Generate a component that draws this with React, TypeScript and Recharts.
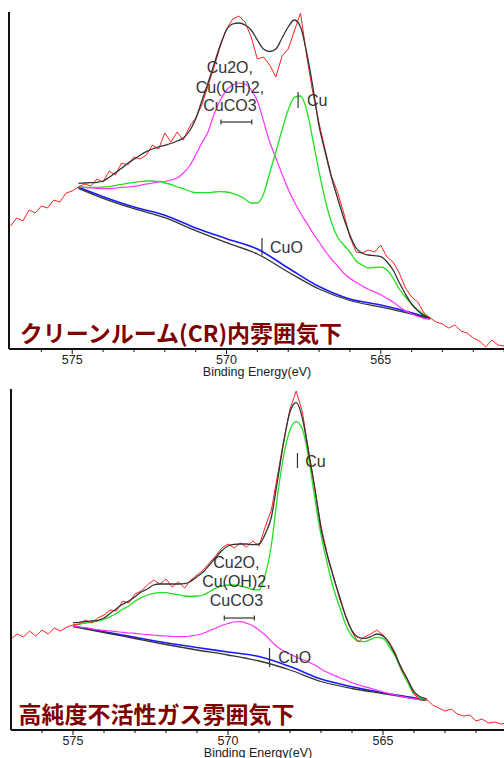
import React from "react";
import { LineChart, Line, XAxis, YAxis, ReferenceLine, ReferenceDot } from "recharts";

// binding energy grid of the raw scan (eV)
const rawEnergy = [
  577.0, 576.8, 576.6, 576.4, 576.2, 576.0, 575.8, 575.6, 575.4, 575.2,
  575.0, 574.8, 574.6, 574.4, 574.2, 574.0, 573.8, 573.6, 573.4, 573.2,
  573.0, 572.8, 572.6, 572.4, 572.2, 572.0, 571.8, 571.6, 571.4, 571.2,
  571.0, 570.8, 570.6, 570.4, 570.2, 570.0, 569.8, 569.6, 569.4, 569.2,
  569.0, 568.8, 568.6, 568.4, 568.2, 568.0, 567.8, 567.6, 567.4, 567.2,
  567.0, 566.8, 566.6, 566.4, 566.2, 566.0, 565.8, 565.6, 565.4, 565.2,
  565.0, 564.8, 564.6, 564.4, 564.2, 564.0, 563.8, 563.6, 563.4, 563.2,
  563.0, 562.8, 562.6, 562.4, 562.2, 562.0, 561.8, 561.6, 561.4, 561.2,
  561.0, 560.8,
];
const tickValues = [561, 562, 563, 564, 565, 566, 567, 568, 569, 570, 571, 572, 573, 574, 575, 576];

// ---- top: clean room
const topFitEnergy = rawEnergy.slice(11, 69); // 574.8 .. 563.4
const topRaw = [
  123, 131, 128, 139, 136, 143, 141, 149, 147, 156,
  158, 162, 165, 163, 170, 167, 178, 174, 186, 184,
  192, 190, 194, 204, 200, 216, 207, 217, 209, 222,
  231, 244, 263, 282, 303, 320, 330, 333, 327, 312,
  290, 292, 284, 272, 293, 300, 318, 336, 293, 256,
  226, 199, 173, 157, 136, 112, 97, 96, 99, 97,
  104, 92, 87, 76, 61, 52, 47, 36, 31, 27,
  25, 21, 24, 18, 16, 11, 8, 2, 9, 4,
  3, 2,
];
const topEnvelope = [
  165.7, 166, 166.3, 166.7, 168, 171.7, 176.3, 180.7, 185.7, 189.7,
  193.7, 197.3, 200, 202, 203.7, 205.5, 208, 211, 218, 230,
  248, 266, 285, 304, 319, 325, 326, 324, 319, 309,
  300, 297.5, 300, 311, 322, 329, 322, 296, 262, 223,
  197, 172, 151, 131, 114, 101, 95.7, 94, 93.3, 92.3,
  87.3, 79, 66.5, 55, 45, 38.3, 33.7, 31,
];
const topCu = [
  162.3, 161.7, 161.7, 161.7, 162, 162.3, 163.7, 164.7, 165.7, 166.7,
  167.3, 168, 168, 167.7, 166, 164.7, 162, 160.3, 158, 156.3,
  156.3, 156.3, 157, 157.3, 157, 155.7, 153.3, 150, 146, 146,
  155, 176, 197.3, 219, 239, 251.7, 253, 239, 209, 177.3,
  149, 127, 112, 104, 97, 88, 84, 81, 81.5, 82,
  79, 71, 60, 52, 45, 39, 34.5, 31,
];
const topOxide = [
  162.3, 161.7, 161, 160.7, 160.3, 160.3, 161, 161.7, 162, 162.7,
  163.7, 165, 166, 167, 167.5, 169, 171, 176, 183, 194,
  206, 217, 235, 249, 259, 264, 266, 265, 259, 248,
  228, 207, 191, 175, 159.7, 147, 135.7, 126, 116, 107,
  98, 90, 83, 76, 70.7, 66.7, 63, 59.7, 57, 54.3,
  50.7, 47, 42.3, 38.3, 35, 32.7, 30.7, 29.7,
];
const topBgEnergy = [574.8, 574, 573, 572, 571, 570, 569, 568, 567, 566, 565, 564, 563.4];
const topBgBlue = [161.7, 152.3, 142, 133.7, 121, 110.3, 100, 81, 62.5, 50, 44, 36.3, 31];
const topBgBlack = [160.7, 150.7, 140.3, 131.3, 118.3, 106.3, 95, 77, 60, 48.5, 42, 35, 30.3];

// ---- bottom: high-purity inert gas
const bottomFitEnergy = rawEnergy.slice(10, 68); // 575.0 .. 563.6
const bottomRaw = [
  91, 96, 93, 99, 94, 100, 96, 102, 99, 103,
  105, 106, 110, 107, 112, 115, 120, 119, 129, 127,
  136, 139, 145, 150, 146, 151, 143, 148, 142, 150,
  155, 160, 167, 174, 182, 186, 182, 187, 183, 189,
  184, 203, 220, 255, 290, 321, 339, 318, 279, 241,
  204, 176, 154, 131, 114, 98, 88, 93, 96, 100,
  95, 88, 77, 60, 50, 36, 30, 31, 25, 22,
  19, 21, 16, 14, 15, 9, 11, 7, 8, 6,
  7, 6,
];
const bottomEnvelope = [
  107.3, 107.7, 108.3, 109, 109.7, 112, 116.7, 121.3, 125.7, 129,
  133.3, 138, 141, 145, 146, 146, 146, 146, 146.3, 148.7,
  153.3, 158, 165, 172.3, 179.3, 184, 185.7, 186, 186, 185.3,
  186, 196, 213, 250, 288.3, 318.3, 327.3, 311.7, 278, 242,
  201.7, 175, 153.3, 133.3, 113.3, 99.3, 92.7, 91.7, 93.3, 96,
  94, 86.7, 75, 61.7, 50, 38.3, 33.3, 31.3,
];
const bottomCu = [
  105, 105.7, 107, 107.7, 109, 110.7, 113.3, 116.7, 120.7, 124,
  128.7, 132.3, 135, 136.7, 137.3, 137.3, 136.3, 135.3, 134, 133.5,
  134, 135, 138.3, 141.7, 144, 145, 145, 144, 142.5, 140.5,
  140, 155, 185, 235, 275, 300, 308.3, 300.7, 272, 232,
  195, 166.7, 141.7, 123.3, 105, 94, 89, 88.3, 90.7, 92.7,
  91.7, 83.3, 73.3, 59.3, 47.3, 36, 32, 30,
];
const bottomOxide = [
  104, 103, 102.3, 101.3, 100.3, 99.7, 99, 98.3, 97.7, 97,
  96.7, 96, 95.3, 95, 94.3, 94, 93.7, 93.3, 93.3, 94,
  95, 96.7, 99.3, 101.7, 104.5, 106.5, 108, 108.3, 106.8, 104.3,
  100, 95, 88.5, 83, 79, 76, 73, 70.5, 68, 65,
  61, 57.7, 55, 52.3, 50, 47.3, 45.3, 43.3, 41.7, 40,
  38, 36.3, 35, 33.3, 32.3, 31.3, 30.7, 30,
];
const bottomBgEnergy = [575, 574, 573, 572, 571, 570, 569, 568, 567, 566, 565, 564, 563.6];
const bottomBgBlue = [104, 98.3, 92.7, 87.3, 82.5, 78, 73.5, 63.5, 51, 43.3, 37.3, 32.3, 30];
const bottomBgBlack = [103.3, 97.5, 91.5, 85.5, 80, 75, 69, 60, 48.5, 41.5, 36.5, 31.5, 29.5];

const oxideLabel = ["Cu2O,", "Cu(OH)2,", "CuCO3"];

type Pt = { e: number; v: number };
type Note = { e: number; v: number; text: string; anchor?: "start" | "middle" };
type Seg = [number, number, number, number];

const zip = (es: number[], vs: number[]): Pt[] => es.map((e, i) => ({ e, v: vs[i] }));

const FONT = "'Liberation Sans', Arial, sans-serif";

function BottomTick({ x, y, payload }: any) {
  const major = payload.value % 5 === 0;
  return (
    <g>
      <line x1={x} x2={x} y1={y} y2={y + (major ? 5 : 3)} stroke="#111" />
      {major && (
        <text x={x} y={y + 15} textAnchor="middle" fontSize={12.5} fontFamily={FONT} fill="#222">
          {payload.value}
        </text>
      )}
    </g>
  );
}

function TopTick({ x, y, payload }: any) {
  const major = payload.value % 5 === 0;
  return <line x1={x} x2={x} y1={y} y2={y + (major ? 6 : 4)} stroke="#111" />;
}

type PanelProps = {
  offsetTop: number;
  plotLeft: number;
  plotTop: number;
  plotWidth: number;
  plotHeight: number;
  axisHeight: number;
  xDomain: [number, number];
  yMax: number;
  titleDx: number;
  raw: Pt[];
  envelope: Pt[];
  cu: Pt[];
  oxide: Pt[];
  bgBlue: Pt[];
  bgBlack: Pt[];
  notes: Note[];
  segments: Seg[];
  caption: Note;
};

function Panel(p: PanelProps) {
  const axisLine = { stroke: "#111", strokeWidth: 2 };
  return (
    <div style={{ position: "absolute", left: 0, top: p.offsetTop }}>
      <LineChart
        width={p.plotLeft + p.plotWidth}
        height={p.plotTop + p.plotHeight + p.axisHeight}
        margin={{ top: p.plotTop, left: p.plotLeft - 1, right: 0, bottom: 0 }}
      >
        <XAxis
          type="number"
          dataKey="e"
          domain={p.xDomain}
          reversed
          allowDataOverflow
          ticks={tickValues}
          interval={0}
          tickSize={0}
          tickMargin={0}
          tickLine={false}
          tick={(t: any) => <BottomTick {...t} />}
          axisLine={axisLine}
          height={p.axisHeight}
          label={(l: any) => {
            const vb = l.viewBox || { x: p.plotLeft, y: p.plotTop + p.plotHeight };
            return (
              <text x={vb.x + p.titleDx} y={vb.y + 27} textAnchor="middle" fontSize={12.5} fontFamily={FONT} fill="#222">
                Binding Energy(eV)
              </text>
            );
          }}
        />
        <XAxis
          xAxisId="t"
          orientation="top"
          type="number"
          domain={p.xDomain}
          reversed
          allowDataOverflow
          ticks={tickValues}
          interval={0}
          tickSize={0}
          tickMargin={0}
          tickLine={false}
          tick={(t: any) => <TopTick {...t} />}
          axisLine={axisLine}
          height={0}
        />
        <YAxis type="number" domain={[0, p.yMax]} allowDataOverflow tick={false} tickLine={false} width={1} axisLine={axisLine} />

        <Line data={p.bgBlue} dataKey="v" type="monotone" stroke="#1a1aff" strokeWidth={1.6} dot={false} isAnimationActive={false} />
        <Line data={p.bgBlack} dataKey="v" type="monotone" stroke="#333" strokeWidth={1.3} dot={false} isAnimationActive={false} />
        <Line data={p.oxide} dataKey="v" type="monotone" stroke="#ff33ff" strokeWidth={1.2} dot={false} isAnimationActive={false} />
        <Line data={p.cu} dataKey="v" type="monotone" stroke="#22e022" strokeWidth={1.3} dot={false} isAnimationActive={false} />
        <Line data={p.raw} dataKey="v" type="linear" stroke="#ff2020" strokeWidth={1} dot={false} isAnimationActive={false} />
        <Line data={p.envelope} dataKey="v" type="monotone" stroke="#333" strokeWidth={1.3} dot={false} isAnimationActive={false} />

        {p.segments.map((s, i) => (
          <ReferenceLine
            key={"s" + i}
            segment={[{ x: s[0], y: s[1] }, { x: s[2], y: s[3] }]}
            stroke="#333"
            strokeWidth={1.2}
            ifOverflow="visible"
          />
        ))}
        {p.notes.map((n, i) => (
          <ReferenceDot
            key={"n" + i}
            x={n.e}
            y={n.v}
            r={1}
            ifOverflow="visible"
            shape={(d: any) => (
              <text x={d.cx} y={d.cy} textAnchor={n.anchor || "start"} fontSize={16} fontFamily={FONT} fill="#333">
                {n.text}
              </text>
            )}
          />
        ))}
        <ReferenceDot
          x={p.caption.e}
          y={p.caption.v}
          r={1}
          ifOverflow="visible"
          shape={(d: any) => (
            <text x={d.cx} y={d.cy} fontSize={23} fontWeight={700} fontFamily="'Noto Sans CJK JP', sans-serif" fill="#800000">
              {p.caption.text}
            </text>
          )}
        />
      </LineChart>
    </div>
  );
}

const topNotes: Note[] = [
  { e: 569.89, v: 276, text: oxideLabel[0], anchor: "middle" },
  { e: 569.89, v: 256, text: oxideLabel[1], anchor: "middle" },
  { e: 569.89, v: 238, text: oxideLabel[2], anchor: "middle" },
  { e: 567.39, v: 243, text: "Cu" },
  { e: 568.59, v: 96, text: "CuO" },
];
const topSegments: Seg[] = [
  [567.68, 241, 567.68, 257],
  [568.85, 94, 568.85, 111],
  [570.18, 227, 569.18, 227],
  [570.18, 224.5, 570.18, 229.5],
  [569.18, 224.5, 569.18, 229.5],
];
const bottomNotes: Note[] = [
  { e: 569.73, v: 162, text: oxideLabel[0], anchor: "middle" },
  { e: 569.73, v: 143, text: oxideLabel[1], anchor: "middle" },
  { e: 569.73, v: 124, text: oxideLabel[2], anchor: "middle" },
  { e: 567.51, v: 263, text: "Cu" },
  { e: 568.38, v: 67, text: "CuO" },
];
const bottomSegments: Seg[] = [
  [567.76, 262, 567.76, 277],
  [568.66, 63, 568.66, 82],
  [570.12, 112, 569.15, 112],
  [570.12, 109.5, 570.12, 114.5],
  [569.15, 109.5, 569.15, 114.5],
];

export default function App() {
  return (
    <div style={{ position: "absolute", left: 0, top: 0, width: 504, height: 758, overflow: "hidden", background: "#fff" }}>
      <Panel
        offsetTop={0}
        plotLeft={9}
        plotTop={12}
        plotWidth={526}
        plotHeight={337}
        axisHeight={31}
        xDomain={[560, 577.05]}
        yMax={337}
        titleDx={248}
        raw={zip(rawEnergy, topRaw)}
        envelope={zip(topFitEnergy, topEnvelope)}
        cu={zip(topFitEnergy, topCu)}
        oxide={zip(topFitEnergy, topOxide)}
        bgBlue={zip(topBgEnergy, topBgBlue)}
        bgBlack={zip(topBgEnergy, topBgBlack)}
        notes={topNotes}
        segments={topSegments}
        caption={{ e: 576.7, v: 7, text: "クリーンルーム(CR)内雰囲気下" }}
      />
      <Panel
        offsetTop={380}
        plotLeft={11}
        plotTop={9}
        plotWidth={527}
        plotHeight={341}
        axisHeight={28}
        xDomain={[560, 577]}
        yMax={341}
        titleDx={247}
        raw={zip(rawEnergy, bottomRaw)}
        envelope={zip(bottomFitEnergy, bottomEnvelope)}
        cu={zip(bottomFitEnergy, bottomCu)}
        oxide={zip(bottomFitEnergy, bottomOxide)}
        bgBlue={zip(bottomBgEnergy, bottomBgBlue)}
        bgBlack={zip(bottomBgEnergy, bottomBgBlack)}
        notes={bottomNotes}
        segments={bottomSegments}
        caption={{ e: 576.76, v: 7, text: "高純度不活性ガス雰囲気下" }}
      />
    </div>
  );
}
